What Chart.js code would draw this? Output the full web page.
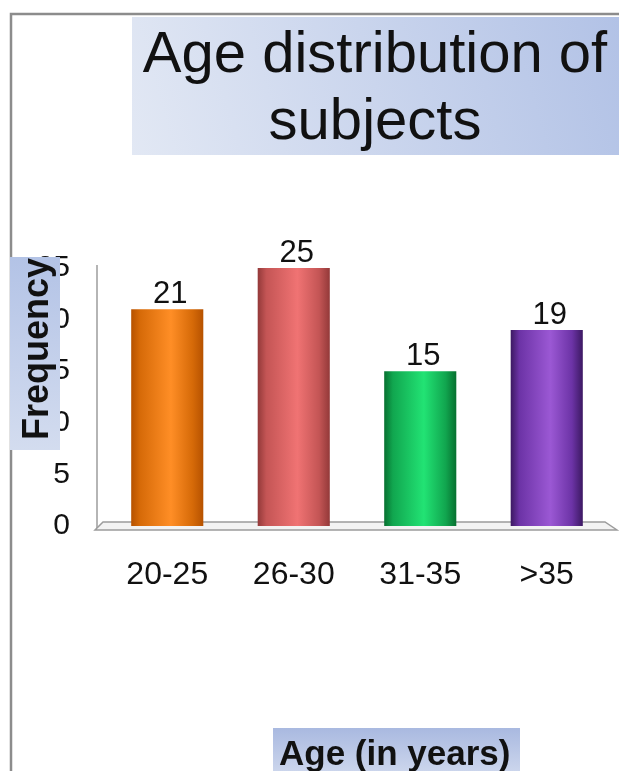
<!DOCTYPE html>
<html><head><meta charset="utf-8">
<script src="https://cdn.jsdelivr.net/npm/chart.js@4/dist/chart.umd.min.js"></script>
<style>html,body{margin:0;padding:0;background:#fff;overflow:hidden}#wrap{width:619px;height:771px;position:relative}</style>
</head><body><div id="wrap"><canvas id="c" width="619" height="771"></canvas></div>
<script>
const categories = ['20-25', '26-30', '31-35', '>35'];
const frequencies = [21, 25, 15, 19];
const yTickValues = [0, 5, 10, 15, 20, 25];
const titleLines = ['Age distribution of', 'subjects'];
const xAxisTitle = 'Age (in years)';
const yAxisTitle = 'Frequency';
const barDark = ['#b65200', '#933939', '#077030', '#3c1962'];
const barLight = ['#ff8e26', '#f07373', '#22e374', '#9b58d4'];
const barEdge = ['#d66a08', '#c45555', '#11a64f', '#6c33a6'];

const FONT = '"Liberation Sans", Arial, sans-serif';

function barGradient(ctx) {
  const chart = ctx.chart;
  const i = ctx.dataIndex;
  const xs = chart.scales.x;
  if (!xs || !chart.chartArea || i === undefined) return barLight[i || 0];
  const cx = xs.getPixelForValue(i);
  const w = (xs.width / categories.length) * 0.57;
  const g = chart.ctx.createLinearGradient(cx - w / 2, 0, cx + w / 2, 0);
  g.addColorStop(0, barDark[i]);
  g.addColorStop(0.12, barEdge[i]);
  g.addColorStop(0.55, barLight[i]);
  g.addColorStop(0.85, barEdge[i]);
  g.addColorStop(1, barDark[i]);
  return g;
}

const decor = {
  id: 'decor',
  beforeDraw(chart) {
    const c = chart.ctx;
    const ys = chart.scales.y;
    const a = chart.chartArea;
    c.save();
    c.fillStyle = '#ffffff';
    c.fillRect(0, 0, chart.width, chart.height);
    // outer frame
    c.strokeStyle = '#8c8c8c';
    c.lineWidth = 2.5;
    c.beginPath();
    c.moveTo(11, chart.height + 2);
    c.lineTo(11, 14);
    c.lineTo(chart.width + 2, 14);
    c.stroke();
    // title box
    let g = c.createLinearGradient(132, 155, 619, 17);
    g.addColorStop(0, '#e2e8f4');
    g.addColorStop(1, '#b2c2e6');
    c.fillStyle = g;
    c.fillRect(132, 17, 619 - 132, 155 - 17);
    // 3D wall line and floor
    const y0 = ys.getPixelForValue(0);
    const yTop = ys.getPixelForValue(yTickValues[yTickValues.length - 1]);
    c.strokeStyle = '#9c9c9c';
    c.lineWidth = 1.5;
    c.beginPath();
    c.moveTo(a.left - 7, yTop - 3);
    c.lineTo(a.left - 7, y0 + 3);
    c.stroke();
    c.beginPath();
    c.moveTo(a.left - 1, y0 - 4);
    c.lineTo(a.right - 5, y0 - 4);
    c.lineTo(a.right + 7, y0 + 4);
    c.lineTo(a.left - 9, y0 + 4);
    c.closePath();
    c.fillStyle = '#f3f3f3';
    c.fill();
    c.stroke();
    c.restore();
  },
  afterDatasetsDraw(chart) {
    const c = chart.ctx;
    const meta = chart.getDatasetMeta(0);
    c.save();
    c.fillStyle = '#111111';
    c.font = '31px ' + FONT;
    c.textAlign = 'center';
    c.textBaseline = 'alphabetic';
    meta.data.forEach((bar, i) => {
      c.fillText(String(frequencies[i]), bar.x + 3, bar.y - 6);
    });
    c.restore();
  },
  afterDraw(chart) {
    const c = chart.ctx;
    c.save();
    // title text
    c.fillStyle = '#111111';
    c.font = '58px ' + FONT;
    c.textAlign = 'center';
    c.textBaseline = 'alphabetic';
    c.fillText(titleLines[0], 375, 72);
    c.fillText(titleLines[1], 375, 139);
    // y axis title box
    let g = c.createLinearGradient(0, 257, 0, 450);
    g.addColorStop(0, '#b3c3e6');
    g.addColorStop(1, '#d3dcef');
    c.fillStyle = g;
    c.fillRect(10, 257, 50, 193);
    c.fillStyle = '#111111';
    c.font = 'bold 36px ' + FONT;
    c.translate(48, 349);
    c.rotate(-Math.PI / 2);
    c.textAlign = 'center';
    c.fillText(yAxisTitle, 0, 0);
    c.setTransform(1, 0, 0, 1, 0, 0);
    // x axis title box
    g = c.createLinearGradient(0, 728, 0, 771);
    g.addColorStop(0, '#a9b9e0');
    g.addColorStop(1, '#cbd5ec');
    c.fillStyle = g;
    c.fillRect(273, 728, 247, 45);
    c.fillStyle = '#111111';
    c.font = 'bold 35px ' + FONT;
    c.textAlign = 'left';
    c.fillText(xAxisTitle, 279, 765);
    c.restore();
  }
};

new Chart(document.getElementById('c'), {
  type: 'bar',
  data: {
    labels: categories,
    datasets: [{
      data: frequencies,
      backgroundColor: barGradient,
      borderWidth: 0,
      barPercentage: 0.57,
      categoryPercentage: 1.0
    }]
  },
  options: {
    responsive: false,
    animation: false,
    devicePixelRatio: 1,
    layout: { padding: { left: 0, right: 9, top: 268, bottom: 165 } },
    plugins: { legend: { display: false }, title: { display: false }, tooltip: { enabled: false } },
    scales: {
      x: {
        grid: { display: false, drawTicks: false },
        border: { display: false },
        ticks: { color: '#111111', font: { family: FONT, size: 32 }, padding: 30, maxRotation: 0 },
        afterFit(s) { s.height = 80; }
      },
      y: {
        min: 0,
        max: 25,
        afterBuildTicks(s) { s.ticks = yTickValues.map(v => ({ value: v })); },
        grid: { display: false, drawTicks: false },
        border: { display: false },
        ticks: { color: '#111111', font: { family: FONT, size: 30 }, padding: 34 },
        afterFit(s) { s.width = 104; }
      }
    }
  },
  plugins: [decor]
});
</script>
</body></html>
